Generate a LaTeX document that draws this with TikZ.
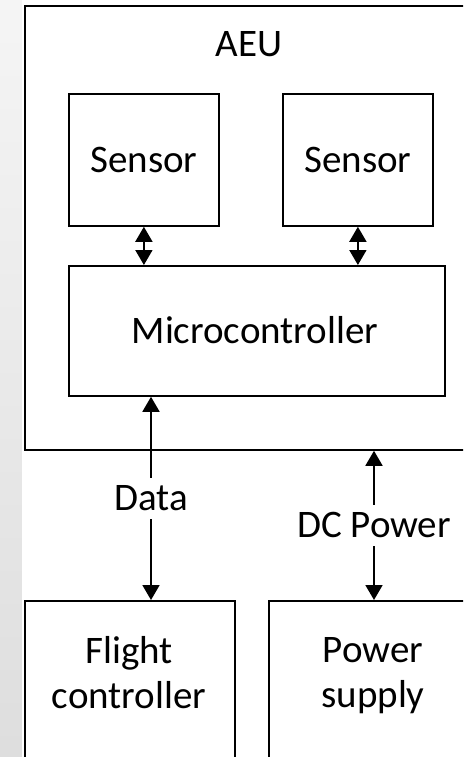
\documentclass[tikz,border=0pt]{standalone}
\usepackage{fontspec}
\setmainfont{Carlito}
\usepackage{tikz}
\usetikzlibrary{positioning,arrows.meta}

\begin{document}
\begin{tikzpicture}[x=1pt, y=-1pt,
        every node/.style={font=\fontsize{39}{45}\selectfont},
        box/.style={draw, line width=1.8pt, rectangle, inner sep=0pt, anchor=north west},
        link/.style={line width=1.8pt, {Triangle[width=17pt,length=15pt]}-{Triangle[width=17pt,length=15pt]}},
        tag/.style={fill=white, inner sep=8pt}]
        \useasboundingbox (0,0) rectangle (463,757);
        \clip (0,0) rectangle (463,757);
        % slide background
        \shade[top color=black!4, bottom color=black!13] (0,0) rectangle (22,757);
        \fill[white] (22,0) rectangle (463,757);

        % AEU frame
        \node[box, minimum width=480pt, minimum height=444pt] (aeu) at (24,5) {};
        \node (aeulabel) at (249,44) {AEU};

        % microcontroller
        \node[box, minimum width=376pt, minimum height=130pt] (mc) at (68,265) {};
        \node (mctext) at (255,330) {Microcontroller};

        % sensors, each linked to the microcontroller
        \foreach \nm/\xx in {sl/68, sr/282}{
            \node[box, minimum width=150pt, minimum height=132pt] (\nm) at (\xx,93) {};
            \node (\nm text) at (\nm.center) {Sensor};
            \draw[link] (\nm.south) to (\nm.south |- mc.north);
        }

        % outside units
        \node[box, minimum width=210pt, minimum height=200pt] (fc) at (24,600) {};
        \node[align=center] (fctext) at (129,673) {Flight\\controller};
        \node[box, minimum width=220pt, minimum height=200pt] (ps) at (268,600) {};
        \node[align=center] (pstext) at (373,676) {Power\\supply};

        % data and power lines
        \coordinate (datax) at (151,0);
        \coordinate (powerx) at (374,0);
        \draw[link] (mc.south -| datax) to node[tag] (datalabel) {Data} (fc.north -| datax);
        \draw[link] (aeu.south -| powerx) to node[tag] (powerlabel) {DC Power} (ps.north -| powerx);
\end{tikzpicture}
\end{document}
